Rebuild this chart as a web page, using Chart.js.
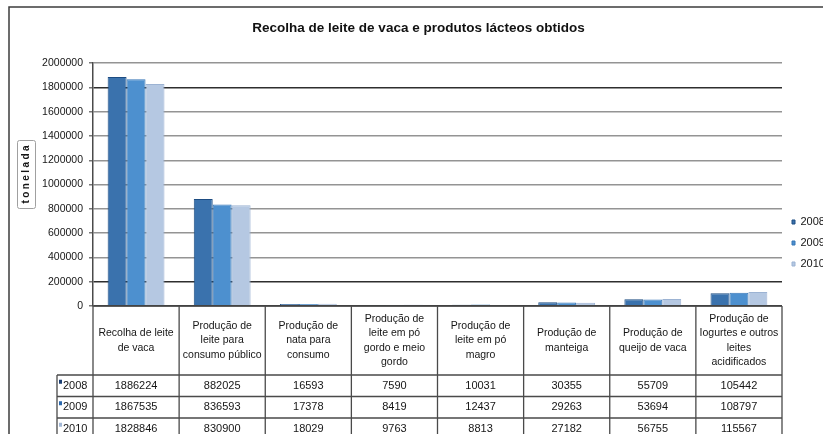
<!DOCTYPE html>
<html lang="pt">
<head>
<meta charset="utf-8">
<title>Recolha de leite de vaca e produtos lácteos obtidos</title>
<script src="https://cdn.jsdelivr.net/npm/chart.js@4.4.1/dist/chart.umd.min.js"></script>
<style>
    html, body {
        margin: 0;
        padding: 0;
        background: #fff;
        overflow: hidden;
    }
    #wrap {
        width: 840px;
        height: 500px;
    }
    canvas {
        display: block;
    }
</style>
</head>
<body>
<div id="wrap">
    <canvas id="leiteChart" width="840" height="500"></canvas>
</div>
<script>
// Data
const categories = [
    ['Recolha de leite', 'de vaca'],
    ['Produção de', 'leite para', 'consumo público'],
    ['Produção de', 'nata para', 'consumo'],
    ['Produção de', 'leite em pó', 'gordo e meio', 'gordo'],
    ['Produção de', 'leite em pó', 'magro'],
    ['Produção de', 'manteiga'],
    ['Produção de', 'queijo de vaca'],
    ['Produção de', 'Iogurtes e outros', 'leites', 'acidificados']
];
const years = ['2008', '2009', '2010'];
const values2008 = [1886224, 882025, 16593, 7590, 10031, 30355, 55709, 105442];
const values2009 = [1867535, 836593, 17378, 8419, 12437, 29263, 53694, 108797];
const values2010 = [1828846, 830900, 18029, 9763, 8813, 27182, 56755, 115567];
const yTicks = [0, 200000, 400000, 600000, 800000, 1000000, 1200000, 1400000, 1600000, 1800000, 2000000];
const titleText = 'Recolha de leite de vaca e produtos lácteos obtidos';
const yTitle = 'tonelada';

const seriesValues = [values2008, values2009, values2010];
const fills = ['#3a72ad', '#4d90cf', '#b5c8e2'];
const edges = ['#1d4c82', '#3676b6', '#9cb3d3'];
const markers = ['#1c3f73', '#2a67ad', '#a3b8d6'];

const FONT = "'Liberation Sans', Arial, Helvetica, sans-serif";
const TEXT = '#151515';
const LINE = '#4a4a4a';

document.addEventListener('DOMContentLoaded', function () {
    initChart();
});

// white background + outer frame (the frame runs on past the cropped right edge)
const framePlugin = {
    id: 'frame',
    beforeDraw(chart) {
        const ctx = chart.ctx;
        ctx.save();
        ctx.fillStyle = '#fff';
        ctx.fillRect(0, 0, chart.width, chart.height);
        ctx.strokeStyle = '#3c3c3c';
        ctx.lineWidth = 1.5;
        ctx.beginPath();
        ctx.moveTo(chart.width, 7);
        ctx.lineTo(9, 7);
        ctx.lineTo(9, chart.height);
        ctx.stroke();
        ctx.restore();
    }
};

// boxed, letter-spaced y axis title
const yTitlePlugin = {
    id: 'yTitleBox',
    afterDraw(chart) {
        const ctx = chart.ctx;
        const bx = 17, by = 140, bw = 18, bh = 68;
        ctx.save();
        ctx.fillStyle = '#fff';
        ctx.strokeStyle = '#a0a0a0';
        ctx.lineWidth = 1;
        ctx.beginPath();
        ctx.roundRect(bx + 0.5, by + 0.5, bw, bh, 2);
        ctx.fill();
        ctx.stroke();
        ctx.translate(bx + bw / 2 + 0.5, by + bh / 2 + 0.5);
        ctx.rotate(-Math.PI / 2);
        ctx.fillStyle = TEXT;
        ctx.font = 'bold 10px ' + FONT;
        ctx.letterSpacing = '2.4px';
        ctx.textAlign = 'center';
        ctx.textBaseline = 'middle';
        ctx.fillText(yTitle, 1.2, 0);
        ctx.restore();
    }
};

// data table under the plot, columns taken from the x scale
const tablePlugin = {
    id: 'dataTable',
    afterDraw(chart) {
        const ctx = chart.ctx;
        const x = chart.scales.x;
        const top = chart.chartArea.bottom;
        const n = categories.length;
        const colW = (x.right - x.left) / n;
        const headH = 69;
        const rowH = 21.5;
        const labelLeft = 57;
        const bottom = top + headH + rowH * years.length;

        ctx.save();
        ctx.strokeStyle = LINE;
        ctx.lineWidth = 1.3;
        ctx.beginPath();
        ctx.moveTo(x.left, top);
        ctx.lineTo(x.right, top);
        for (let i = 0; i <= n; i++) {
            const bx = x.left + i * colW;
            ctx.moveTo(bx, top);
            ctx.lineTo(bx, bottom);
        }
        for (let r = 0; r <= years.length; r++) {
            const ry = top + headH + r * rowH;
            ctx.moveTo(labelLeft, ry);
            ctx.lineTo(x.right, ry);
        }
        ctx.moveTo(labelLeft, top + headH);
        ctx.lineTo(labelLeft, bottom);
        ctx.stroke();

        ctx.fillStyle = TEXT;
        ctx.textAlign = 'center';
        ctx.textBaseline = 'middle';
        ctx.font = '10.5px ' + FONT;

        // header: category names, centred in their cells
        const lineH = 14.5;
        categories.forEach((lines, i) => {
            const cx = x.getPixelForValue(i);
            const cy = top + headH / 2;
            const y0 = cy - (lines.length - 1) * lineH / 2;
            lines.forEach((txt, k) => ctx.fillText(txt, cx, y0 + k * lineH));
        });

        // rows
        ctx.font = '11px ' + FONT;
        years.forEach((yr, r) => {
            const cy = top + headH + r * rowH + rowH / 2;
            ctx.fillStyle = markers[r];
            ctx.fillRect(labelLeft + 2, cy - 6, 3, 4);
            ctx.fillStyle = TEXT;
            ctx.textAlign = 'left';
            ctx.fillText(yr, labelLeft + 6, cy);
            ctx.textAlign = 'center';
            seriesValues[r].forEach((v, i) => {
                ctx.fillText(String(v), x.getPixelForValue(i), cy);
            });
        });
        ctx.restore();
    }
};

function initChart() {
    const ctx = document.getElementById('leiteChart').getContext('2d');
    Chart.defaults.font.family = FONT;
    Chart.defaults.color = TEXT;

    new Chart(ctx, {
        type: 'bar',
        data: {
            labels: categories,
            datasets: years.map((yr, i) => ({
                label: yr,
                data: seriesValues[i],
                backgroundColor: fills[i],
                borderColor: edges[i],
                borderWidth: 1,
                categoryPercentage: 0.66,
                barPercentage: 1
            }))
        },
        options: {
            responsive: false,
            devicePixelRatio: 1,
            animation: false,
            layout: {
                padding: { left: 9, right: 12, top: 0, bottom: 14 }
            },
            plugins: {
                legend: {
                    display: true,
                    position: 'right',
                    maxWidth: 46,
                    labels: {
                        boxWidth: 3,
                        boxHeight: 4,
                        padding: 10,
                        color: TEXT,
                        font: { size: 11 }
                    }
                },
                tooltip: { enabled: false },
                title: {
                    display: true,
                    text: titleText,
                    color: '#111',
                    font: { size: 13.5, weight: 'bold' },
                    padding: { top: 20, bottom: 27 }
                }
            },
            scales: {
                x: {
                    offset: true,
                    grid: { display: false },
                    border: { display: false },
                    ticks: { display: false },
                    afterFit: function (scale) {
                        // room for the data table below the plot
                        scale.height = 180;
                    }
                },
                y: {
                    min: 0,
                    max: yTicks[yTicks.length - 1],
                    afterBuildTicks: function (scale) {
                        scale.ticks = yTicks.map(v => ({ value: v }));
                    },
                    afterFit: function (scale) {
                        scale.width = 84;
                    },
                    border: {
                        display: true,
                        color: LINE,
                        width: 1.5
                    },
                    grid: {
                        color: function (c) {
                            const v = c.tick ? c.tick.value : null;
                            return (v === 0 || v === 200000 || v === 1800000) ? '#2e2e2e' : '#949494';
                        },
                        lineWidth: 1.5,
                        tickLength: 4,
                        tickColor: '#777'
                    },
                    ticks: {
                        padding: 6,
                        color: TEXT,
                        font: { size: 10.5 },
                        callback: function (value) {
                            return String(value);
                        }
                    }
                }
            }
        },
        plugins: [framePlugin, tablePlugin, yTitlePlugin]
    });
}
</script>
</body>
</html>
